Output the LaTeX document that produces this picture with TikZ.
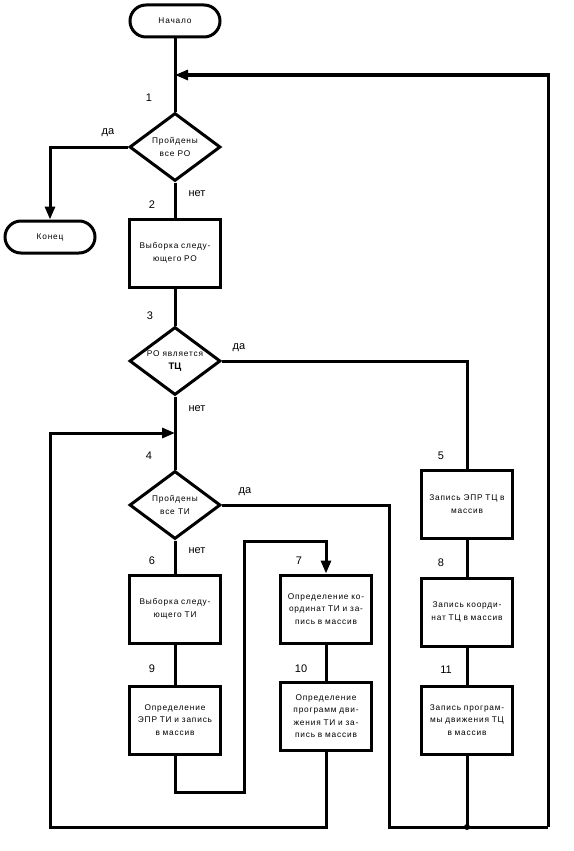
\documentclass[tikz,border=0pt]{standalone}
\usepackage{fontspec}
\setmainfont{Liberation Sans}
\newfontfamily\boxfont{Liberation Sans}[LetterSpace=10]
\usetikzlibrary{arrows.meta,shapes.geometric,shapes.misc}
\begin{document}
\begin{tikzpicture}[x=1pt,y=-1pt,
  line width=3pt,
  every node/.style={inner sep=0pt},
  txt/.style={font=\boxfont\fontsize{8.3}{12.5}\selectfont, align=center},
  term/.style={txt, draw, line width=3pt, rounded rectangle, minimum width=90pt, minimum height=32pt},
  proc/.style={txt, draw, line width=3pt, rectangle, minimum width=91pt, minimum height=68pt, text width=89pt},
  dec/.style={txt, draw, line width=3pt, diamond, minimum width=91pt, minimum height=68pt, aspect=1.33},
  num/.style={font=\fontsize{11}{13}\selectfont},
  lab/.style={font=\fontsize{11}{13}\selectfont},
  arr/.style={-{Triangle[length=13pt,width=10pt]}},
  conn/.style={line width=3pt, line join=miter}
]
\useasboundingbox (0,0) rectangle (573,851);

% nodes
\node[term] (start) at (175,21) {Начало};
\node[dec] (d1) at (175,147) {Пройдены\\все РО};
\node[term] (fin) at (50,237) {Конец};
\node[proc] (b2) at (175,253) {Выборка следу-\\ющего  РО};
\node[dec] (d3) at (175,361) {РО является\\{\normalfont\bfseries\fontsize{9.5}{10}\selectfont ТЦ}};
\node[dec] (d4) at (175,505) {Пройдены\\все ТИ};
\node[proc] (b6) at (175,609) {Выборка следу-\\ющего ТИ};
\node[proc] (b9) at (175,720) {Определение\\ЭПР ТИ и запись\\в  массив};
\node[proc] (b7) at (326,609) {Определение ко-\\ординат ТИ и за-\\пись в массив};
\node[proc] (b10) at (326,716) {Определение\\программ дви-\\жения ТИ и за-\\пись в массив};
\node[proc] (b5) at (467,504) {Запись ЭПР ТЦ  в\\массив};
\node[proc] (b8) at (467,612) {Запись коорди-\\нат ТЦ в массив};
\node[proc] (b11) at (467,720) {Запись програм-\\мы движения ТЦ\\в  массив};

% labels
\node[num] (n1) at (149,98) {1};
\node[num] (n2) at (152,205) {2};
\node[num] (n3) at (150,316) {3};
\node[num] (n4) at (149,456) {4};
\node[num] (n5) at (441,456) {5};
\node[num] (n6) at (152,561) {6};
\node[num] (n7) at (299,561) {7};
\node[num] (n8) at (441,563) {8};
\node[num] (n9) at (152,669) {9};
\node[num] (n10) at (301,669) {10};
\node[num] (n11) at (446,670) {11};
\node[lab] (y1) at (108,133) {да};
\node[lab] (no1) at (197,194) {нет};
\node[lab] (y3) at (239,348) {да};
\node[lab] (no3) at (197,409) {нет};
\node[lab] (y4) at (245,492) {да};
\node[lab] (no4) at (197,551) {нет};

% helper coordinates
\coordinate (j1) at (175,75);
\coordinate (j2) at (175,433);
\coordinate (rc) at (548,75);
\coordinate (lb) at (50,827);
\coordinate (rb) at (548,827);
\coordinate (mb) at (389,827);
\coordinate (jd) at (467,827);
\coordinate (s1) at (175,792);
\coordinate (s2) at (244,541);

% connectors
\draw[conn] (start.south) -- (d1.north);
\draw[conn,arr] (d1.west) -| (fin.north);
\draw[conn] (d1.south) -- (b2.north);
\draw[conn] (b2.south) -- (d3.north);
\draw[conn] (d3.east) -| (b5.north);
\draw[conn] (d3.south) -- (d4.north);
\draw[conn] (d4.south) -- (b6.north);
\draw[conn] (b6.south) -- (b9.north);
\draw[conn,arr] (b9.south) -- (s1) -| (s2) -| (b7.north);
\draw[conn] (b7.south) -- (b10.north);
\draw[conn,arr] (b10.south) |- (lb) |- (j2);
\draw[conn] (b5.south) -- (b8.north);
\draw[conn] (b8.south) -- (b11.north);
\draw[conn] (b11.south) -- (jd);
\draw[conn] (d4.east) -| (mb) -- (rb);
\draw[conn,arr] (rb) -- (rc) -- (j1);
\fill (jd) circle (3pt);
\end{tikzpicture}
\end{document}
